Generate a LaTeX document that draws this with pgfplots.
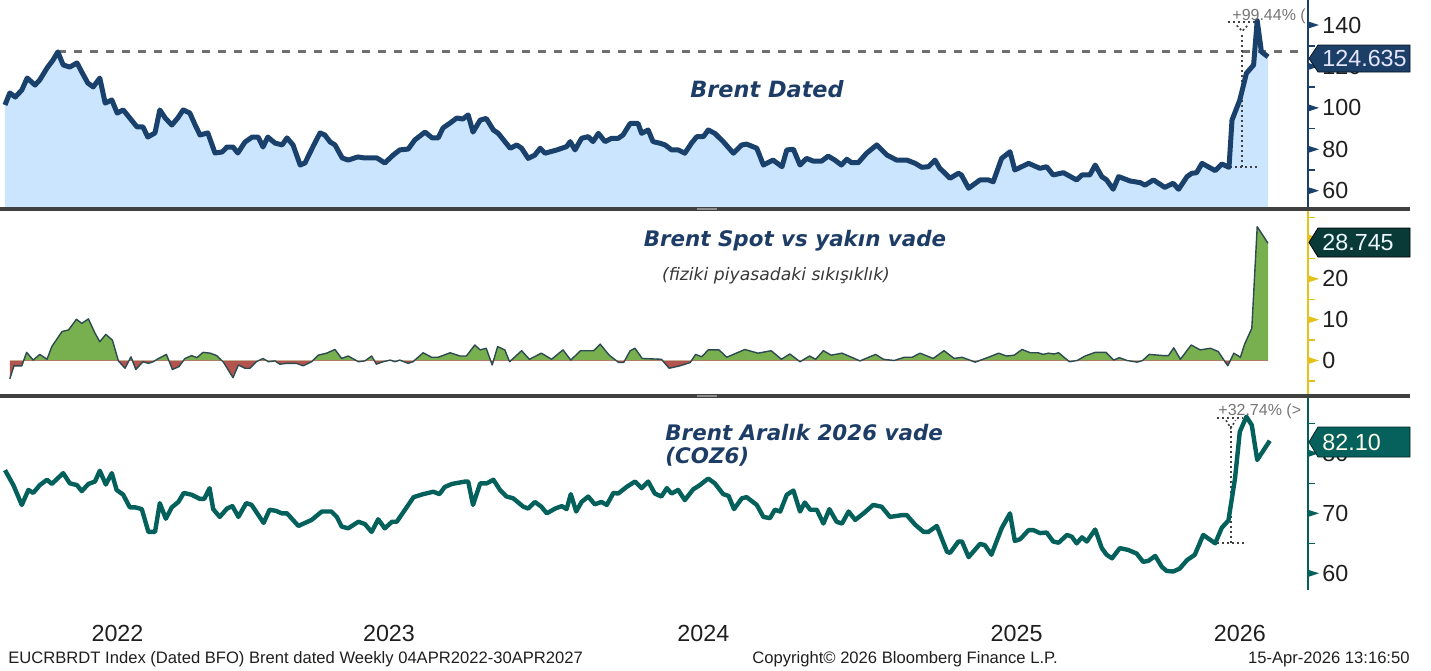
\documentclass[border=0pt]{standalone}
\usepackage{fontspec}
\setmainfont{Liberation Sans}
\newfontfamily\titlefont{DejaVu Sans}[BoldFont={DejaVu Sans Bold},ItalicFont={DejaVu Sans Oblique},BoldItalicFont={DejaVu Sans Bold Oblique}]
\usepackage{pgfplots}
\pgfplotsset{compat=1.18}
\usepackage{pgfplotstable}

\definecolor{navy}{HTML}{1A416B}
\definecolor{lblue}{HTML}{CCE5FF}
\definecolor{dashgray}{HTML}{6F6F6F}
\definecolor{mgreen}{HTML}{79B04F}
\definecolor{mred}{HTML}{B4544E}
\definecolor{mline}{HTML}{2C4A50}
\definecolor{bteal}{HTML}{04605B}
\definecolor{gold}{HTML}{E5C11B}
\definecolor{sepgray}{HTML}{404040}
\definecolor{titlenavy}{HTML}{1E3D66}
\definecolor{boxnavy}{HTML}{1B3F66}
\definecolor{boxdark}{HTML}{0A3A38}
\definecolor{boxteal}{HTML}{06605C}
\definecolor{dotgray}{HTML}{404040}
\definecolor{annogray}{HTML}{757575}

\newcommand\tickfont{\fontsize{11.65pt}{13pt}\selectfont}

\pgfplotstableread{
w v
0 101.4
0.8 107.2
1.7 105.2
2.8 108.6
3.7 114.4
5.0 111.0
5.8 113.5
7.0 119.2
8.0 123.1
8.8 127.0
9.7 120.7
10.8 119.7
12.0 121.7
12.8 117.3
13.8 112.0
14.7 110.1
15.8 114.4
16.7 102.3
17.8 103.8
18.7 97.5
19.7 99.0
20.8 95.1
22.0 90.8
23.0 90.8
23.8 85.9
25.0 87.9
25.8 99.0
26.7 95.1
27.8 91.7
28.8 95.1
29.7 99.0
30.8 97.5
31.7 91.7
32.5 86.9
33.8 87.9
35.0 78.2
36.2 78.7
37.0 81.1
38.0 81.1
38.8 78.2
40.0 83.5
41.2 85.9
42.2 85.9
43.0 81.1
43.8 85.9
45.0 83.0
46.2 82.1
47.0 85.5
48.0 82.1
49.2 72.4
50.0 73.4
51.3 81.1
52.5 87.9
53.3 86.9
54.2 83.5
55.0 82.1
56.2 75.8
57.2 74.8
58.8 76.3
60.0 75.8
62.0 75.8
63.3 73.4
64.7 77.2
65.8 79.7
67.2 80.1
68.3 84.5
70.0 88.3
71.2 85.5
72.2 85.5
73.0 90.3
74.2 92.7
75.3 95.1
76.3 94.6
77.2 96.6
78.0 88.3
79.2 94.1
80.2 94.9
81.4 89.3
82.2 87.7
84.2 80.5
85.3 82.1
86.1 80.5
87.2 75.6
88.3 77.2
89.2 80.5
90.0 78.1
92.0 79.7
93.6 81.3
94.2 83.7
95.0 79.7
96.1 85.3
97.2 86.1
98.0 83.7
98.9 87.7
100.0 83.7
101.1 85.3
102.2 85.3
103.0 86.9
104.2 92.5
105.5 92.5
106.1 87.7
107.2 89.3
108.0 83.7
109.2 82.9
110.0 82.1
111.1 79.7
112.2 79.7
113.3 78.1
114.4 82.9
115.3 86.1
116.4 86.1
117.2 89.3
118.3 87.7
119.7 83.7
121.4 78.1
122.8 82.1
123.6 82.5
125.3 80.5
126.4 72.4
128.0 74.8
129.5 71.6
130.3 79.7
131.4 80.0
132.5 72.4
133.6 75.6
134.7 74.3
136.1 74.3
137.2 76.7
138.3 74.8
139.4 72.4
140.3 75.2
141.1 73.5
142.2 73.5
143.6 78.1
145.3 82.1
147.0 77.2
148.6 74.8
150.3 74.8
151.7 73.2
152.8 71.3
153.9 71.6
155.0 74.8
155.8 70.8
156.4 69.2
157.5 66.0
158.9 68.4
159.4 67.6
160.6 61.2
162.5 65.2
163.9 65.2
164.7 64.3
166.1 75.6
167.5 78.8
168.3 70.0
170.6 73.2
172.5 70.8
173.6 71.6
174.7 67.6
176.4 68.7
178.6 65.2
179.5 67.6
180.8 67.6
181.7 72.4
182.8 66.8
183.6 65.2
184.7 60.7
185.6 66.8
187.5 64.7
189.2 63.9
190.0 62.7
191.4 65.2
193.3 61.6
194.7 63.6
195.6 60.7
197.0 66.8
197.8 68.4
198.6 68.7
199.5 73.2
201.7 69.7
202.8 72.9
204.0 71.3
204.5 94.1
205.8 103.8
206.9 116.7
208.1 120.7
208.7 142.1
209.4 127.1
210.5 124.635
}\topdata

\pgfplotstableread{
w v
0.8 -4.5
1.5 -1.3
2.8 -1.3
3.6 2.0
4.7 0.1
5.8 1.5
7.0 0.3
7.8 3.4
9.5 7.1
10.6 7.5
11.9 10.1
12.8 9.1
13.9 10.2
15.0 6.7
15.8 4.6
16.8 6.4
17.9 5.0
18.9 -0.1
20.0 -1.9
21.0 0.9
21.8 -2.2
23.0 -0.3
23.9 -0.7
24.7 -0.3
25.6 0.5
26.9 1.5
27.9 -2.2
29.0 -1.5
30.0 0.5
31.1 1.2
32.0 0.7
33.0 2.0
34.2 1.8
35.3 1.2
36.4 -0.4
37.2 -2.3
38.0 -4.2
38.9 -1.1
40.0 -1.9
40.8 -1.9
41.9 -0.3
43.0 0.5
43.9 -0.3
45.0 -0.1
45.8 -0.9
47.0 -0.7
48.6 -0.7
49.7 -1.3
51.1 -0.3
52.2 1.3
53.6 1.8
55.0 2.7
56.1 0.5
57.2 1.1
58.9 -0.3
60.0 -0.1
61.1 1.1
61.9 -0.9
63.0 -0.3
64.2 0.1
65.0 -0.3
65.8 0.1
67.2 -0.7
68.0 -0.3
69.7 1.9
71.1 0.8
72.2 0.8
74.2 1.9
75.8 1.1
76.9 1.1
78.3 3.8
79.2 2.6
80.2 3.0
81.2 -1.1
82.1 3.4
83.3 2.6
84.1 -0.3
86.1 2.4
87.4 0.3
89.4 1.8
91.1 0.3
93.0 2.6
94.3 0.1
95.9 2.4
98.1 2.4
99.2 4.0
100.7 1.3
102.3 -0.5
103.1 -0.5
104.2 2.4
105.0 3.0
106.2 0.5
109.4 0.3
110.7 -1.9
112.5 -1.3
114.2 -0.5
115.1 1.5
116.1 0.9
117.2 2.6
119.0 2.6
120.3 0.8
123.3 2.7
125.5 1.8
127.7 2.4
129.4 0.3
130.8 1.6
132.5 -0.3
134.1 1.1
135.1 0.3
136.4 2.4
137.7 1.3
139.5 1.8
142.5 -0.1
145.1 1.5
146.4 0.3
148.2 0.0
149.9 0.8
151.2 0.8
152.5 1.8
154.7 0.5
156.5 2.4
158.2 0.5
159.5 0.8
161.7 -0.4
163.9 0.8
165.6 1.8
166.9 1.1
168.2 1.3
169.5 2.7
170.9 1.9
172.2 1.9
173.0 1.5
173.9 1.8
174.8 1.6
175.6 1.9
177.4 -0.3
178.7 0.0
180.0 1.1
181.7 2.0
183.5 2.0
184.8 0.1
185.7 0.7
187.0 0.0
188.7 -0.4
189.6 0.0
190.7 1.5
193.1 1.2
193.9 1.2
194.8 3.1
195.9 0.3
197.7 3.8
199.2 2.6
200.9 3.0
202.2 2.2
203.8 -1.3
204.8 1.8
205.9 0.8
206.6 4.0
207.8 7.9
208.7 32.8
210.5 28.745
}\middata

\pgfplotstableread{
w v
0 77.2
1.4 74.7
2.8 71.4
3.9 73.9
4.7 73.4
5.8 74.7
7.0 75.6
7.8 74.9
9.7 76.7
10.8 75.0
12.0 74.7
12.8 73.7
13.9 74.9
15.0 75.3
15.8 77.1
16.8 74.8
17.8 76.7
18.6 73.9
19.7 73.1
20.8 71.0
21.7 71.0
22.8 70.7
23.9 66.9
25.0 66.9
25.8 71.7
26.8 69.1
27.8 71.0
28.9 71.9
29.8 73.4
31.1 73.1
32.5 72.4
33.2 72.4
34.1 74.2
34.7 70.7
35.8 69.4
37.0 70.8
37.9 71.2
38.9 69.4
40.2 71.7
41.1 71.4
43.1 68.4
44.1 70.6
45.2 70.4
46.1 70.0
47.0 70.0
48.9 67.9
51.1 68.9
52.8 70.3
54.4 70.3
55.3 69.4
56.1 67.8
57.2 67.5
58.9 68.6
60.0 68.2
61.1 66.9
62.2 69.0
63.3 67.5
64.5 68.6
65.3 68.6
68.1 72.7
69.7 73.2
71.4 73.6
72.4 73.2
73.3 74.4
74.5 74.9
76.7 75.3
77.2 75.3
78.0 71.4
79.2 75.0
80.3 75.0
81.4 75.6
82.5 73.9
83.6 72.8
84.7 72.5
86.4 71.1
87.2 70.8
88.3 71.9
89.4 71.1
90.3 70.0
91.7 70.8
92.8 71.2
93.6 70.7
94.3 73.2
95.2 70.3
96.1 71.9
97.2 72.8
98.3 71.5
99.4 71.9
100.3 71.4
101.4 73.4
102.2 73.3
103.6 74.4
105.0 75.3
106.1 74.2
107.2 75.3
108.3 73.3
109.4 72.8
110.3 74.2
111.1 73.3
112.2 73.9
113.3 72.2
114.7 74.0
115.8 74.7
117.2 75.8
118.3 75.0
119.7 73.2
120.6 72.9
121.5 70.7
122.8 72.5
123.6 72.7
125.3 71.4
126.4 69.4
127.5 69.2
128.3 70.6
129.2 70.3
130.3 73.1
131.4 73.8
132.5 70.3
133.3 71.8
134.2 70.6
135.3 70.6
136.4 68.3
137.4 70.7
138.6 68.6
139.5 68.3
140.6 70.3
141.7 68.9
143.1 70.0
144.7 71.4
146.1 71.1
147.5 69.4
149.5 69.7
150.3 69.7
151.7 68.1
153.1 66.9
153.9 66.9
155.3 67.9
157.0 63.6
157.5 63.4
158.9 65.3
159.5 65.3
160.6 62.7
162.5 64.9
163.3 64.7
164.4 63.1
166.1 67.5
167.5 70.0
168.3 65.4
169.2 65.7
170.6 67.2
171.4 67.2
172.5 66.7
173.6 66.8
174.7 65.3
175.6 65.1
177.0 66.4
177.8 66.1
178.6 65.0
179.5 66.0
180.3 65.3
181.7 67.3
182.8 64.2
183.6 63.1
184.5 62.5
185.8 64.2
187.2 63.9
188.6 63.3
189.7 61.9
190.6 62.1
191.7 62.9
192.8 61.1
193.6 60.4
194.7 60.3
195.8 60.8
197.0 62.2
198.3 63.1
199.7 66.4
201.7 65.0
202.8 67.6
203.9 68.8
205.0 75.8
205.8 83.6
206.9 86.1
207.8 84.7
208.7 78.9
210.8 82.10
}\botdata

\pgfplotsset{
  base/.style={
    scale only axis, width=654pt, xmin=-0.8333, xmax=217.1667,
    anchor=north west, axis x line*=bottom, axis y line*=right,
    x axis line style={draw=none},
    tick align=outside, major tick length=0pt, minor tick length=3.5pt,
    /pgf/number format/assume math mode=true,
    yticklabel={\pgfmathprintnumber{\tick}},
    yticklabel style={anchor=west, inner sep=0pt, xshift=7pt, font=\tickfont, text=black!88},
    clip=true,
  },
  plain/.style={
    scale only axis, width=654pt, xmin=-0.8333, xmax=217.1667,
    anchor=north west, hide axis, clip=true,
  }
}

\begin{document}
\begin{tikzpicture}
\path[use as bounding box] (0,0) rectangle (715.5pt,-335pt);

% ---------- top panel ----------
\begin{axis}[base, at={(0pt,0pt)}, height=103.5pt,
  ymin=52.13, ymax=152.07, xtick=\empty,
  ytick={60,80,100,120,140}, minor ytick={70,90,110,130},
  y axis line style={draw=navy, line width=1pt},
  minor tick style={draw=navy, line width=0.8pt}]
\addplot[fill=lblue, draw=none] table[x=w,y=v] {\topdata} |- (axis cs:0,52.13) -- cycle;
\addplot[dashgray, line width=1.5pt, dash pattern=on 4pt off 4pt] coordinates {(8.8,127) (215.5,127)};
\addplot[dotgray, line width=1pt, dash pattern=on 1pt off 1.5pt] coordinates {(204.2,71.4) (208.8,71.4)};
\addplot[dotgray, line width=1pt, dash pattern=on 1pt off 1.5pt] coordinates {(206.2,71.4) (206.2,136.5)};
\addplot[dotgray, line width=1pt, dash pattern=on 1pt off 1.5pt] coordinates {(203.8,141.5) (208.8,141.5)};
\addplot[dotgray, line width=0.8pt, dash pattern=on 1pt off 1.2pt] coordinates {(205.3,139.8) (206.2,137) (207.1,139.8)};
\addplot[navy, line width=2.5pt, line join=round] table[x=w,y=v] {\topdata};
\end{axis}

% ---------- middle panel: positive part (clipped above zero) ----------
\begin{axis}[plain, at={(0pt,-105.5pt)}, height=74.75pt, ymin=0, ymax=36.64]
\addplot[fill=mgreen, draw=none] table[x=w,y=v] {\middata} |- (axis cs:0.8,0) -- cycle;
\end{axis}
% ---------- middle panel: negative part (clipped below zero) ----------
\begin{axis}[plain, at={(0pt,-180.25pt)}, height=16.75pt, ymin=-8.21, ymax=0]
\addplot[fill=mred, draw=none] table[x=w,y=v] {\middata} |- (axis cs:0.8,0) -- cycle;
\end{axis}
% ---------- middle panel: line and axis ----------
\begin{axis}[base, at={(0pt,-105.5pt)}, height=91.5pt,
  ymin=-8.21, ymax=36.64, xtick=\empty,
  ytick={0,10,20}, minor ytick={-5,5,15,25,35},
  y axis line style={draw=gold, line width=1pt},
  minor tick style={draw=gold, line width=0.8pt}]
\addplot[mline, line width=0.7pt, line join=round] table[x=w,y=v] {\middata};
\end{axis}

% ---------- bottom panel ----------
\begin{axis}[base, at={(0pt,-199pt)}, height=96pt,
  ymin=57.22, ymax=89.22,
  xtick={18.75,64,116.4,168.6,205.8}, xticklabels={2022,2023,2024,2025,2026},
  xticklabel style={anchor=base, yshift=-25.5pt, font=\tickfont, text=black!88},
  ytick={60,70,80}, minor ytick={65,75,85},
  y axis line style={draw=bteal, line width=1pt},
  minor tick style={draw=bteal, line width=0.8pt}]
\addplot[dotgray, line width=1pt, dash pattern=on 1pt off 1.5pt] coordinates {(202.0,65.0) (206.7,65.0)};
\addplot[dotgray, line width=1pt, dash pattern=on 1pt off 1.5pt] coordinates {(204.3,65.0) (204.3,84.6)};
\addplot[dotgray, line width=1pt, dash pattern=on 1pt off 1.5pt] coordinates {(202.0,85.9) (206.2,85.9)};
\addplot[dotgray, line width=0.8pt, dash pattern=on 1pt off 1.2pt] coordinates {(203.5,85.5) (204.3,84.2) (205.1,85.5)};
\addplot[bteal, line width=2.2pt, line join=round] table[x=w,y=v] {\botdata};
\end{axis}

% ---------- decorations in pixel units ----------
\begin{scope}[x=0.5pt, y=-0.5pt]
\fill[sepgray] (0,207) rectangle (1410,211);
\fill[sepgray] (0,394) rectangle (1410,398);
\fill[black!45] (697,208.3) rectangle (717,209.7);
\fill[black!45] (697,395.3) rectangle (717,396.7);

% tick triangles
\foreach \yy in {190.7,149.3,107.9,66.4,25.0} {\fill[navy] (1308,\yy-3.6) -- (1319,\yy) -- (1308,\yy+3.6) -- cycle;}
\foreach \yy in {360.5,319.7,278.9,238.1} {\fill[gold] (1308,\yy-3.6) -- (1319,\yy) -- (1308,\yy+3.6) -- cycle;}
\foreach \yy in {573.3,513.3,453.3} {\fill[bteal] (1308,\yy-3.6) -- (1319,\yy) -- (1308,\yy+3.6) -- cycle;}

\node[anchor=base, inner sep=0pt, text=titlenavy, font={\titlefont\fontsize{11.2pt}{13pt}\selectfont\bfseries\itshape}] at (767,97) {Brent Dated};
\node[anchor=base, inner sep=0pt, text=titlenavy, font={\titlefont\fontsize{10.7pt}{13pt}\selectfont\bfseries\itshape}] at (795,246) {Brent Spot vs yakın vade};
\node[anchor=base, inner sep=0pt, text=black!78, font={\titlefont\fontsize{8.6pt}{10pt}\selectfont\itshape}] at (776,280) {(fiziki piyasadaki sıkışıklık)};
\node[anchor=base west, inner sep=0pt, text=titlenavy, font={\titlefont\fontsize{10.7pt}{13pt}\selectfont\bfseries\itshape}] at (665,440) {Brent Aralık 2026 vade};
\node[anchor=base west, inner sep=0pt, text=titlenavy, font={\titlefont\fontsize{10.7pt}{13pt}\selectfont\bfseries\itshape}] at (665,463) {(COZ6)};

\node[anchor=base west, inner sep=0pt, text=annogray, font=\fontsize{8pt}{9pt}\selectfont] at (1232,20) {+99.44\% (};
\node[anchor=base west, inner sep=0pt, text=annogray, font=\fontsize{8pt}{9pt}\selectfont] at (1218,415) {+32.74\% (>};

% value boxes
\filldraw[fill=boxnavy, draw=black!70!boxnavy, line width=0.4pt] (1309,58.5) -- (1318,45) -- (1410,45) -- (1410,72) -- (1318,72) -- cycle;
\node[anchor=base west, inner sep=0pt, text=white!90!blue, font=\tickfont] at (1322,66.9) {124.635};
\filldraw[fill=boxdark, draw=black, line width=0.4pt] (1309,242.5) -- (1318,228) -- (1410,228) -- (1410,257) -- (1318,257) -- cycle;
\node[anchor=base west, inner sep=0pt, text=white!92!cyan, font=\tickfont] at (1322,250.9) {28.745};
\filldraw[fill=boxteal, draw=black!60!boxteal, line width=0.4pt] (1309,442) -- (1318,427) -- (1410,427) -- (1410,457) -- (1318,457) -- cycle;
\node[anchor=base west, inner sep=0pt, text=white!92!yellow, font=\tickfont] at (1322,450.4) {82.10};

% footer
\node[anchor=base west, inner sep=0pt, text=black!88, font=\fontsize{8.3pt}{10pt}\selectfont] at (8,663) {EUCRBRDT Index (Dated BFO) Brent dated Weekly 04APR2022-30APR2027};
\node[anchor=base west, inner sep=0pt, text=black!88, font=\fontsize{8.3pt}{10pt}\selectfont] at (752,663) {Copyright© 2026 Bloomberg Finance L.P.};
\node[anchor=base east, inner sep=0pt, text=black!88, font=\fontsize{8.3pt}{10pt}\selectfont] at (1410,663) {15-Apr-2026 13:16:50};
\end{scope}
\end{tikzpicture}
\end{document}
